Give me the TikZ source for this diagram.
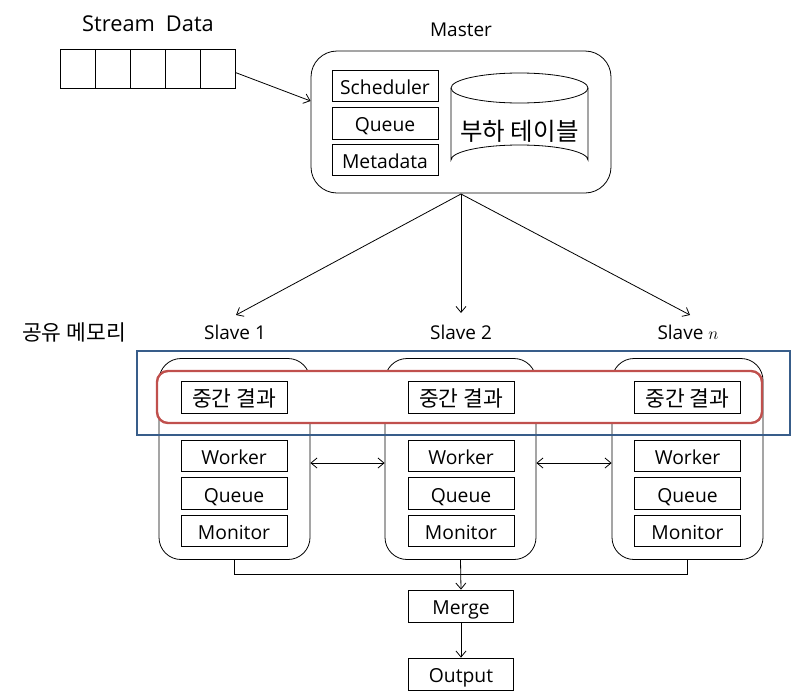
\documentclass[tikz,border=0pt]{standalone}
\usepackage{fontspec}
\setmainfont{Open Sans}
\newfontfamily\kr{Noto Sans CJK KR}
\usetikzlibrary{arrows.meta}
\definecolor{blueframe}{HTML}{385D8A}
\definecolor{redframe}{HTML}{C0504D}
\begin{document}
\begin{tikzpicture}[x=1pt,y=-1pt,
  lab/.style={font=\fontsize{19}{21}\selectfont, inner sep=0pt},
  kl/.style={font=\kr\fontsize{21.5}{23}\selectfont, inner sep=0pt},
  cell/.style={draw, line width=0.8pt, minimum width=35pt, minimum height=39pt, inner sep=0pt},
  ibox/.style={draw, line width=0.8pt, minimum width=106pt, minimum height=31.5pt, inner sep=0pt, fill=white, font=\fontsize{19.3}{21}\selectfont, text height=17pt, text depth=0pt},
  kbox/.style={ibox, font=\kr\fontsize{21.5}{23}\selectfont, text height=18.5pt, text depth=1pt},
  rbox/.style={draw, line width=0.8pt, rounded corners=22pt, inner sep=0pt},
  arr/.style={line width=0.8pt, -{Straight Barb[length=6pt,width=10pt]}},
  darr/.style={line width=0.8pt, {Straight Barb[length=6pt,width=10pt]}-{Straight Barb[length=6pt,width=10pt]}},
  ln/.style={line width=0.8pt}]
\useasboundingbox (0,0) rectangle (792,699);

% Stream data
\node[lab, font=\fontsize{21.8}{23}\selectfont] (sdlab) at (148,24) {Stream\hspace{0.25em} Data};
\node[cell] (c1) at (77.5,68.5) {};
\node[cell] (c2) at (112.5,68.5) {};
\node[cell] (c3) at (147.5,68.5) {};
\node[cell] (c4) at (182.5,68.5) {};
\node[cell] (c5) at (217.5,68.5) {};

% Master
\node[lab] (mlab) at (461,30) {Master};
\node[rbox, minimum width=300pt, minimum height=142pt, rounded corners=26pt] (master) at (461,122) {};
\node[ibox, minimum height=31pt] (sched) at (385,85.5) {Scheduler};
\node[ibox, minimum height=32pt] (mq) at (385,123) {Queue};
\node[ibox, minimum height=31pt] (meta) at (385,159.5) {Metadata};
% cylinder
\coordinate (cyl) at (519.5,124);
\draw[ln] (451,88) -- (451,160) arc[start angle=180,end angle=360,x radius=68.5,y radius=15] -- (588,88);
\draw[ln] (519.5,88) ellipse[x radius=68.5,y radius=15];
\node[kl, font=\kr\fontsize{24.5}{26}\selectfont] (load) at (519.5,131) {부하 테이블};

\draw[arr] (c5.east) ++(0,4) coordinate (sdo) -- (master.west |- 0,101);

% Slave labels
\node[kl] (shm) at (74,332) {공유 메모리};
\node[lab] (s1lab) at (235,332) {Slave 1};
\node[lab] (s2lab) at (461,332) {Slave 2};
\node[lab] (snlab) at (688,332) {Slave $n$};

\coordinate (mb) at (461,194);
\draw[arr] (mb) -- (236,315);
\draw[arr] (mb) -- (461,313);
\draw[arr] (mb) -- (690,315);

% Slave boxes
\node[rbox, minimum width=151pt, minimum height=201pt] (s1) at (234.5,459) {};
\node[rbox, minimum width=151pt, minimum height=201pt] (s2) at (460.5,459) {};
\node[rbox, minimum width=151pt, minimum height=201pt] (sn) at (687.5,459) {};

% shared memory frames
\draw[redframe, line width=2.4pt, fill=white, rounded corners=11pt] (157,371) rectangle (762,423);
\node[kbox] (m1) at (234,397.5) {중간 결과};
\node[kbox] (m2) at (461,397.5) {중간 결과};
\node[kbox] (mn) at (687.5,397.5) {중간 결과};
\draw[blueframe, line width=2.4pt] (137,351) rectangle (790,435);

% inner boxes
\node[ibox] (w1) at (234,456) {Worker};
\node[ibox] (q1) at (234,493.5) {Queue};
\node[ibox] (o1) at (234,531) {Monitor};
\node[ibox] (w2) at (461,456) {Worker};
\node[ibox] (q2) at (461,493.5) {Queue};
\node[ibox] (o2) at (461,531) {Monitor};
\node[ibox] (wn) at (687.5,456) {Worker};
\node[ibox] (qn) at (687.5,493.5) {Queue};
\node[ibox] (on) at (687.5,531) {Monitor};

\draw[darr] (s1.east |- 0,463) -- (s2.west |- 0,463);
\draw[darr] (s2.east |- 0,463) -- (sn.west |- 0,463);

% merge
\node[ibox, minimum width=105pt, minimum height=32pt] (merge) at (461,606) {Merge};
\node[ibox, minimum width=105pt, minimum height=32pt] (out) at (461,674) {Output};
\draw[ln] (s1.south) -- (s1.south |- 0,574) -- (sn.south |- 0,574) -- (sn.south);
\draw[arr] (s2.south) -- (merge.north);
\draw[arr] (merge.south) -- (out.north);
\end{tikzpicture}
\end{document}
